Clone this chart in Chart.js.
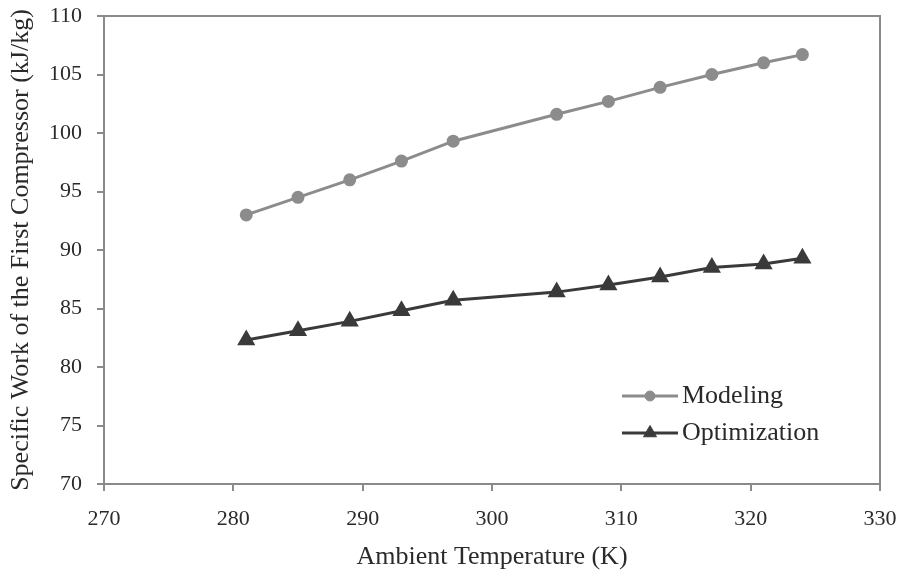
<!DOCTYPE html>
<html>
<head>
<meta charset="utf-8">
<script src="https://cdn.jsdelivr.net/npm/chart.js@4/dist/chart.umd.min.js"></script>
<style>
  html,body{margin:0;padding:0;background:#fff;}
  #wrap{width:902px;height:576px;}
</style>
</head>
<body>
<div id="wrap"><canvas id="c" width="902" height="576"></canvas></div>
<script>
/* data */
const temps = [281, 285, 289, 293, 297, 305, 309, 313, 317, 321, 324];
const modeling = [93.0, 94.5, 96.0, 97.6, 99.3, 101.6, 102.7, 103.9, 105.0, 106.0, 106.7];
const optimization = [82.3, 83.1, 83.9, 84.8, 85.7, 86.4, 87.0, 87.7, 88.5, 88.8, 89.3];
const seriesNames = ['Modeling', 'Optimization'];
const xTitle = 'Ambient Temperature (K)';
const yTitle = 'Specific Work of the First Compressor (kJ/kg)';

const serif = "'Liberation Serif', 'Times New Roman', serif";
const axisCol = '#8a8a8a';
const textCol = '#2a2a2a';

const pts = arr => arr.map((v, i) => ({x: temps[i], y: v}));

/* top + right sides of the box */
const boxPlugin = {
  id: 'box',
  beforeDatasetsDraw(chart){
    const a = chart.chartArea, ctx = chart.ctx;
    ctx.save();
    ctx.strokeStyle = axisCol;
    ctx.lineWidth = 2;
    ctx.beginPath();
    ctx.moveTo(a.left, a.top);
    ctx.lineTo(a.right, a.top);
    ctx.lineTo(a.right, a.bottom);
    ctx.stroke();
    ctx.restore();
  }
};

/* legend inside the plot, lower right */
const insideLegend = {
  id: 'insideLegend',
  afterDatasetsDraw(chart){
    const ctx = chart.ctx;
    const x0 = 622, x1 = 678, y0 = 396, gap = 37;
    ctx.save();
    chart.data.datasets.forEach((ds, i) => {
      const y = y0 + i * gap;
      ctx.strokeStyle = ds.borderColor;
      ctx.lineWidth = ds.borderWidth;
      ctx.beginPath();
      ctx.moveTo(x0, y);
      ctx.lineTo(x1, y);
      ctx.stroke();
      ctx.fillStyle = ds.pointBackgroundColor;
      ctx.strokeStyle = ds.pointBorderColor;
      ctx.lineWidth = 1;
      Chart.helpers.drawPoint(ctx, {pointStyle: ds.pointStyle, radius: ds.pointRadius, borderWidth: 1, rotation: 0}, (x0 + x1) / 2, y);
      ctx.fillStyle = textCol;
      ctx.font = '26px ' + serif;
      ctx.textBaseline = 'middle';
      ctx.textAlign = 'left';
      ctx.fillText(ds.label, x1 + 4, y);
    });
    ctx.restore();
  }
};

new Chart(document.getElementById('c'), {
  type: 'line',
  data: {
    datasets: [
      {
        label: seriesNames[0],
        data: pts(modeling),
        borderColor: '#8c8c8c',
        borderWidth: 3,
        pointStyle: 'circle',
        pointRadius: 5,
        pointBackgroundColor: '#8c8c8c',
        pointBorderColor: '#8c8c8c',
        tension: 0
      },
      {
        label: seriesNames[1],
        data: pts(optimization),
        borderColor: '#3a3a3a',
        borderWidth: 3,
        pointStyle: 'triangle',
        pointRadius: 7.5,
        pointBackgroundColor: '#3a3a3a',
        pointBorderColor: '#3a3a3a',
        tension: 0
      }
    ]
  },
  options: {
    responsive: false,
    animation: false,
    layout: {padding: {top: 16, right: 22, left: 0, bottom: 0}},
    plugins: {legend: {display: false}, tooltip: {enabled: false}},
    scales: {
      x: {
        type: 'linear',
        min: 270, max: 330,
        afterFit: s => { s.height = 92; s.paddingLeft = 0; s.paddingRight = 0; },
        ticks: {stepSize: 10, color: textCol, font: {family: serif, size: 22}, padding: 15},
        grid: {display: true, drawOnChartArea: false, tickLength: 7, color: axisCol, lineWidth: 2},
        border: {display: true, color: axisCol, width: 2},
        title: {display: true, text: xTitle, color: textCol, font: {family: serif, size: 26}, padding: {top: 0, bottom: 3}}
      },
      y: {
        min: 70, max: 110,
        afterFit: s => { s.width = 104; s.paddingTop = 0; s.paddingBottom = 0; },
        ticks: {stepSize: 5, color: textCol, font: {family: serif, size: 22}, padding: 15},
        grid: {display: true, drawOnChartArea: false, tickLength: 7, color: axisCol, lineWidth: 2},
        border: {display: true, color: axisCol, width: 2},
        title: {display: true, text: yTitle, color: textCol, font: {family: serif, size: 26}, padding: {top: 6, bottom: 0}}
      }
    }
  },
  plugins: [boxPlugin, insideLegend]
});
</script>
</body>
</html>
